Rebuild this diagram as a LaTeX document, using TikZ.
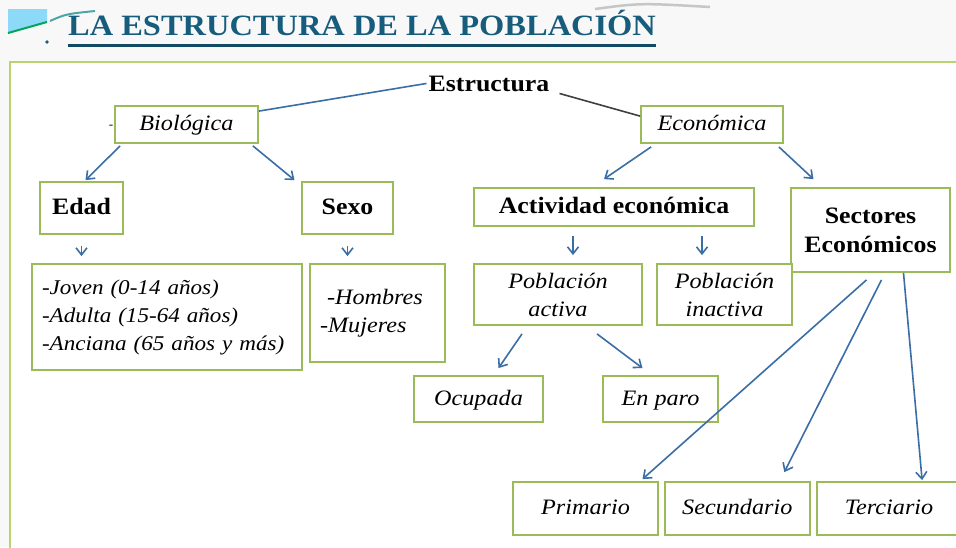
\documentclass[tikz,border=0pt]{standalone}
\usepackage{fontspec}
\setmainfont{Liberation Serif}[FakeStretch=1.1]
\usetikzlibrary{positioning}
\usetikzlibrary{arrows.meta}

\definecolor{boxgreen}{RGB}{155,187,89}
\definecolor{framegreen}{RGB}{184,212,112}
\definecolor{arrowblue}{RGB}{58,110,165}
\definecolor{titleblue}{RGB}{22,92,125}
\definecolor{pageback}{RGB}{248,248,248}

\begin{document}
\begin{tikzpicture}
		[x=1pt, y=-1pt,
		box/.style={draw=boxgreen, line width=1.8pt, fill=white, inner sep=0pt, align=center},
		ibox/.style={box, font=\fontsize{22}{28}\selectfont\itshape},
		bbox/.style={box, font=\fontsize{23.5}{29}\selectfont\bfseries},
		oneline/.style={text height=15.5pt, text depth=3pt},
		arrow/.style={-{Straight Barb[length=7pt,width=11pt]}, draw=arrowblue, line width=1.6pt},
		link/.style={draw=arrowblue, line width=1.6pt}]
		\useasboundingbox (0,0) rectangle (956,547);
		\fill[pageback] (0,0) rectangle (956,547);
		% heading
		\fill[cyan!45] (8,9) -- (47,9) -- (47,22) -- (8,33) -- cycle;
		\draw[teal!70!green, line width=2pt] (8,33) -- (47,22);
		\draw[teal!70, line width=2pt] (50,21) .. controls (66,14) .. (95,11);
		\draw[gray!45, line width=2.5pt] (595,9) .. controls (640,3) .. (710,7);
		\fill[titleblue] (47,42) circle (1.8);
		\node[anchor=base west, inner sep=0pt, text=titleblue, font=\fontsize{29.5}{30}\selectfont\bfseries] (title) at (68,35) {LA ESTRUCTURA DE LA POBLACIÓN};
		\draw[titleblue!80!black, line width=3pt] ([yshift=-10pt]title.base west) -- ([yshift=-10pt]title.base east);
		\draw[framegreen, line width=2pt, fill=white] (10,62) rectangle (970,560);

		\node[anchor=base, inner sep=0pt, font=\fontsize{23.5}{26}\selectfont\bfseries] (estr) at (489,91) {Estructura};
		\node[ibox, oneline, minimum width=143, minimum height=37] (bio) at (186.5,124.5) {Biológica};
		\node[ibox, oneline, minimum width=142, minimum height=37] (eco) at (712,124.5) {Económica};
		\node[inner sep=0pt, font=\fontsize{12}{12}\selectfont] (dash) at (111,127) {-};

		\node[bbox, oneline, minimum width=83, minimum height=52] (edad) at (81.5,208) {Edad};
		\node[bbox, oneline, minimum width=91, minimum height=52] (sexo) at (347.5,208) {Sexo};
		\node[ibox, font=\fontsize{21}{28}\selectfont\itshape, text width=250, align=left, minimum width=270, minimum height=106] (edades) at (167,317)
			{-Joven (0-14 años)\\-Adulta (15-64 años)\\-Anciana (65 años y más)};
		\node[ibox, text width=115, align=left, minimum width=135, minimum height=98] (sexos) at (377.5,313)
			{\hspace{7pt}-Hombres\\-Mujeres};

		\node[bbox, oneline, minimum width=280, minimum height=38] (act) at (614,207) {Actividad económica};
		\node[bbox, minimum width=159, minimum height=84] (sect) at (870.5,230) {Sectores\\Económicos};
		\node[ibox, minimum width=168, minimum height=61] (activa) at (558,294.5) {Población\\activa};
		\node[ibox, minimum width=135, minimum height=61] (inactiva) at (724.5,294.5) {Población\\inactiva};
		\node[ibox, oneline, minimum width=129, minimum height=46] (ocup) at (478.5,399) {Ocupada};
		\node[ibox, oneline, minimum width=115, minimum height=46] (paro) at (660.5,399) {En paro};

		\node[ibox, oneline, minimum width=145, minimum height=53] (prim) at (585.5,508.5) {Primario};
		\node[ibox, oneline, minimum width=145, minimum height=53, right=5pt of prim] (secu) {Secundario};
		\node[ibox, oneline, minimum width=145, minimum height=53, right=5pt of secu] (terc) {Terciario};

		\draw[link] ([yshift=-6pt]bio.north east) -- ([xshift=-2pt]estr.west);
		\draw[draw=black!75, line width=1.6pt] ([xshift=10pt,yshift=-2pt]estr.south east) -- ([yshift=-11pt]eco.north west);

		\draw[arrow] ([xshift=6pt,yshift=-2pt]bio.south west) -- ([xshift=4pt,yshift=1pt]edad.north);
		\draw[arrow] ([xshift=-6pt,yshift=-2pt]bio.south east) -- ([xshift=-53pt,yshift=1pt]sexo.north);
		\draw[arrow, shorten <=11pt, shorten >=7pt] (edad.south) -- (edad.south |- edades.north);
		\draw[arrow, shorten <=11pt, shorten >=7pt] (sexo.south) -- (sexo.south |- sexos.north);

		\draw[arrow] ([xshift=11pt,yshift=-3pt]eco.south west) -- ([xshift=-10pt,yshift=8pt]act.north);
		\draw[arrow] ([xshift=-5pt,yshift=-3pt]eco.south east) -- ([xshift=-57pt,yshift=8pt]sect.north);
		\draw[arrow, shorten <=9pt, shorten >=8pt] ([xshift=-41pt]act.south) -- ([xshift=-41pt]act.south |- activa.north);
		\draw[arrow, shorten <=9pt, shorten >=8pt] ([xshift=88pt]act.south) -- ([xshift=88pt]act.south |- inactiva.north);
		\draw[arrow] ([xshift=-36pt,yshift=-8pt]activa.south) -- ([xshift=20pt,yshift=7pt]ocup.north);
		\draw[arrow] ([xshift=39pt,yshift=-8pt]activa.south) -- ([xshift=-18pt,yshift=7pt]paro.north);

		\draw[arrow] ([xshift=-4pt,yshift=-7pt]sect.south) -- ([xshift=57pt,yshift=2pt]prim.north);
		\draw[arrow] ([xshift=11pt,yshift=-7pt]sect.south) -- ([xshift=47pt,yshift=9pt]secu.north);
		\draw[arrow] ([xshift=33pt]sect.south) -- ([xshift=33pt,yshift=1pt]terc.north);
	\end{tikzpicture}
\end{document}
